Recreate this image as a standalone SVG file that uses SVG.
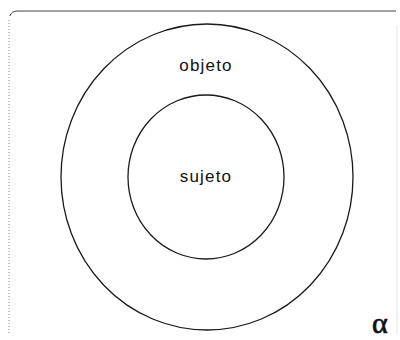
<svg xmlns="http://www.w3.org/2000/svg" width="400" height="340" viewBox="0 0 400 340">
  <style>
    .ring { fill: none; stroke: #1a1a1a; stroke-width: 1.3; }
    .lbl { font-family: "Liberation Sans", Arial, sans-serif; font-size: 17px; fill: #111; text-anchor: middle; letter-spacing: 1.2px; }
    .frame { fill: none; stroke: #444; stroke-width: 1; }
  </style>
  <rect width="400" height="340" fill="#ffffff"/>
  <g id="frame">
    <path class="frame" d="M10,16 Q11,11 18,11 L396,11"/>
    <path d="M9,20 L9,335" stroke="#888" stroke-width="1" stroke-dasharray="1 2" fill="none"/>
    <path d="M397,25 L397,335" stroke="#e4e4e4" stroke-width="1" fill="none"/>
  </g>
  <g id="connectors"/>
  <g id="objeto">
    <ellipse class="ring" cx="207" cy="177" rx="146" ry="153"/>
    <text class="lbl" x="206" y="71">objeto</text>
  </g>
  <g id="sujeto">
    <ellipse class="ring" cx="206" cy="177" rx="78" ry="82"/>
    <text class="lbl" x="206" y="182">sujeto</text>
  </g>
  <text x="372" y="333" font-family="'Liberation Serif', 'Times New Roman', serif" font-size="30" fill="#111" stroke="#111" stroke-width="0.7">α</text>
</svg>
